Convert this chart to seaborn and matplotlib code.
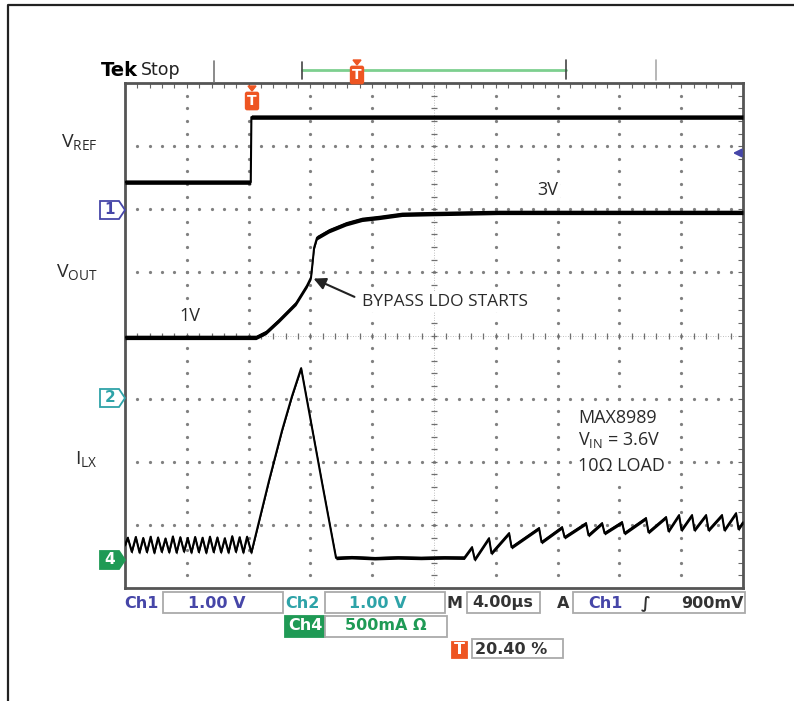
import numpy as np
import matplotlib
matplotlib.use("Agg")
import matplotlib.pyplot as plt
import seaborn as sns
from matplotlib.patches import Rectangle, Polygon
from matplotlib.lines import Line2D

# ----------------------------
# 1. Scope settings + traces
# ----------------------------
trig_pos = 8.16          # us, trigger at 20.40 % of the 40 us record

ch1_gnd, ch1_scale = 6.0, 1.0      # divisions from bottom, V/div  (VREF)
ch2_gnd, ch2_scale = 3.0, 1.0      # (VOUT)
ch4_gnd, ch4_scale = 0.44, 500.0   # mA/div (ILX)

# VREF (Ch1), time in us relative to trigger
vref_t = [-8.16, -0.02, 0.02, 31.84]
vref_v = [0.43, 0.43, 1.46, 1.46]

# VOUT (Ch2)
vout_t = [-8.16, 0.32, 0.97, 1.81, 2.91, 3.62, 3.88, 3.95, 4.08, 4.27,
          5.05, 6.15, 7.18, 8.28, 9.77, 11.52, 16.0, 24.0, 31.84]
vout_v = [0.97, 0.97, 1.05, 1.24, 1.51, 1.79, 1.92, 2.08, 2.39, 2.55,
          2.66, 2.77, 2.84, 2.87, 2.92, 2.93, 2.95, 2.95, 2.95]

# ILX (Ch4), mA
ilx_t = [-8.16, -7.98, -7.72, -7.46, -7.22, -6.98, -6.74, -6.50, -6.26, -6.02,
         -5.78, -5.54, -5.30, -5.06, -4.82, -4.58, -4.34, -4.10, -3.86, -3.62,
         -3.38, -3.14, -2.90, -2.66, -2.42, -2.18, -1.94, -1.70, -1.46, -1.22,
         -0.98, -0.74, -0.50, -0.26, 0.02,
         1.17, 2.01, 2.65, 3.24, 3.75, 4.60, 5.50,
         6.5, 8.0, 9.5, 11.0, 12.5, 13.8,
         14.30, 14.48, 15.40, 15.56, 16.70, 16.86, 18.64, 18.80, 20.13, 20.29,
         21.68, 21.84, 22.72, 22.88, 24.01, 24.17, 25.56, 25.72, 26.86, 27.02,
         27.70, 27.86, 28.54, 28.70, 29.45, 29.61, 30.48, 30.64, 31.39, 31.55,
         31.84]
ilx_ma = [120, 178, 66, 184, 60, 176, 64, 186, 58, 180,
          66, 172, 62, 188, 60, 182, 68, 176, 60, 184,
          64, 178, 58, 186, 64, 180, 62, 174, 60, 190,
          66, 182, 60, 186, 60,
          634, 1030, 1300, 1521, 1180, 610, 18,
          24, 16, 22, 18, 22, 20,
          103, 5, 174, 55, 214, 103, 254, 143, 261, 182,
          293, 198, 293, 214, 301, 214, 333, 222, 341, 230,
          357, 238, 357, 238, 357, 238, 357, 238, 372, 246,
          300]

# ----------------------------
# 2. Figure / graticule
# ----------------------------
W, H = 794, 701
sns.set_style("white")
plt.rcParams['font.family'] = ['Open Sans', 'DejaVu Sans']

fig = plt.figure(figsize=(W / 100, H / 100), dpi=100)
ax = fig.add_axes([125 / W, 1 - 588 / H, 618 / W, 505 / H])


def fx(x):
    return x / W


def fy(y):
    return 1 - y / H


grid_c = '#808080'
for gx in range(4, 40, 4):
    if gx == 20:
        continue
    ys = np.arange(0.2, 8, 0.2)
    ax.plot(np.full(len(ys), gx), ys, 'o', ms=1.3, color=grid_c, zorder=1)
for gy in range(1, 8):
    if gy == 4:
        continue
    xs = np.arange(0.8, 40, 0.8)
    ax.plot(xs, np.full(len(xs), gy), 'o', ms=1.3, color=grid_c, zorder=1)

# centre lines with tick marks
ax.axhline(4, color='#aaaaaa', lw=0.6, ls=(0, (1, 2)), zorder=1)
ax.axvline(20, color='#aaaaaa', lw=0.6, ls=(0, (1, 2)), zorder=1)
xs = np.arange(0.8, 40, 0.8)
ax.plot(xs, np.full(len(xs), 4), '|', ms=5, mew=0.9, color='#707070', zorder=1)
ys = np.arange(0.2, 8, 0.2)
ax.plot(np.full(len(ys), 20), ys, '_', ms=5, mew=0.9, color='#707070', zorder=1)

# ----------------------------
# 3. Traces
# ----------------------------
traces = [
    (vref_t, vref_v, ch1_gnd, ch1_scale, 0.035),
    (vout_t, vout_v, ch2_gnd, ch2_scale, 0.035),
    (ilx_t, ilx_ma, ch4_gnd, ch4_scale, 0.028),
]
for t, v, gnd, scale, half in traces:
    xs = np.array(t) + trig_pos
    ys = gnd + np.array(v) / scale
    ax.fill_between(xs, ys - half, ys + half, color='black', lw=0, zorder=3)
    sns.lineplot(x=xs, y=ys, ax=ax, color='black', lw=1.5,
                 estimator=None, sort=False, zorder=3)

ax.set_xlim(0, 40)
ax.set_ylim(0, 8)
ax.set_xticks(np.arange(0, 40.1, 4))
ax.set_xticks(np.arange(0, 40.1, 0.8), minor=True)
ax.set_yticks(np.arange(0, 8.1, 1))
ax.set_yticks(np.arange(0, 8.1, 0.2), minor=True)
ax.tick_params(which='both', direction='in', length=3.5, width=0.8, color='#666666',
               top=True, right=True, labelbottom=False, labelleft=False)
ax.set_xlabel('')
ax.set_ylabel('')
for s in ax.spines.values():
    s.set_color('#555555')
    s.set_linewidth(2)

# ----------------------------
# 4. Annotations
# ----------------------------
txt_c = '#2a2a2a'
wbox = dict(boxstyle='square,pad=0.1', fc='white', ec='none')
fig.text(fx(98), fy(143), r'V$_{\mathregular{REF}}$', ha='right', va='center', fontsize=14, color=txt_c)
fig.text(fx(98), fy(273), r'V$_{\mathregular{OUT}}$', ha='right', va='center', fontsize=14, color=txt_c)
fig.text(fx(98), fy(460), r'I$_{\mathregular{LX}}$', ha='right', va='center', fontsize=14, color=txt_c)

fig.text(fx(190), fy(316), '1V', ha='center', va='center', fontsize=13, color=txt_c, bbox=wbox)
fig.text(fx(548), fy(190), '3V', ha='center', va='center', fontsize=13, color=txt_c, bbox=wbox)
fig.text(fx(362), fy(302), 'BYPASS LDO STARTS', ha='left', va='center', fontsize=12.5,
         color=txt_c, bbox=wbox)
ax.annotate('', xy=(3.88 + trig_pos, ch2_gnd + 1.92 / ch2_scale),
            xytext=(fx(357), fy(298)), textcoords='figure fraction',
            arrowprops=dict(arrowstyle='-|>', color='#222222', lw=1.5, mutation_scale=18))

fig.text(fx(578), fy(418), 'MAX8989', ha='left', va='center', fontsize=13, color=txt_c, bbox=wbox)
fig.text(fx(578), fy(440), r'V$_{\mathregular{IN}}$ = 3.6V', ha='left', va='center', fontsize=13,
         color=txt_c, bbox=wbox)
fig.text(fx(578), fy(466), '10\u03a9 LOAD', ha='left', va='center', fontsize=13, color=txt_c, bbox=wbox)

# channel ground markers
c1, c2, c4 = '#4646a8', '#2ea3a8', '#1f9a55'
red = '#ee5522'


def gnd_marker(yc, color, label, filled):
    pts = [(100, yc - 9), (119, yc - 9), (125, yc), (119, yc + 9), (100, yc + 9)]
    fig.add_artist(Polygon([(fx(a), fy(b)) for a, b in pts], closed=True,
                           transform=fig.transFigure, fc=color if filled else 'white',
                           ec=color, lw=1.3))
    fig.text(fx(110), fy(yc), label, ha='center', va='center', fontsize=11, fontweight='bold',
             color='white' if filled else color, family='DejaVu Sans')


gnd_marker(210, c1, '1', False)
gnd_marker(398, c2, '2', False)
gnd_marker(560, c4, '4', True)

# trigger level arrow on the right
fig.add_artist(matplotlib.patches.FancyArrowPatch((fx(744), fy(153)), (fx(730), fy(153)),
               transform=fig.transFigure, arrowstyle='-|>', mutation_scale=12,
               color=c1, lw=1.5))


def trig_mark(xc, y_top):
    fig.add_artist(Polygon([(fx(xc - 4), fy(y_top)), (fx(xc + 4), fy(y_top)), (fx(xc), fy(y_top + 5))],
                           closed=True, transform=fig.transFigure, fc=red, ec=red))
    fig.text(fx(xc), fy(y_top + 15), 'T', ha='center', va='center', fontsize=10, fontweight='bold',
             color='white', family='DejaVu Sans',
             bbox=dict(boxstyle='round,pad=0.12', fc=red, ec=red))


trig_mark(252, 86)
trig_mark(357, 60)


def line(x0, y0, x1, y1, color, lw=1.2):
    fig.add_artist(Line2D([fx(x0), fx(x1)], [fy(y0), fy(y1)], transform=fig.transFigure,
                          color=color, lw=lw))


# top status bar
fig.text(fx(101), fy(71), 'Tek', ha='left', va='center', fontsize=14, fontweight='bold',
         color='black', family='DejaVu Sans')
fig.text(fx(141), fy(70), 'Stop', ha='left', va='center', fontsize=12.5, color='#222222',
         family='DejaVu Sans')
line(214, 61, 214, 82, '#777777')
line(656, 60, 656, 80, '#aaaaaa')
line(302, 70, 566, 70, '#7dcf8f', lw=2)
line(302, 62, 302, 79, '#444444')
line(566, 60, 566, 79, '#444444')

# border of the picture
fig.add_artist(Line2D([fx(8), fx(8), fx(794)], [fy(701), fy(5), fy(5)], transform=fig.transFigure,
                      color='#222222', lw=1.6))


# bottom readouts
def box(x0, y0, x1, y1, fc='white', ec='#aaaaaa'):
    fig.add_artist(Rectangle((fx(x0), fy(y1)), (x1 - x0) / W, (y1 - y0) / H,
                             transform=fig.transFigure, fc=fc, ec=ec, lw=1.3))


def ro(x, y, s, color, ha='left'):
    fig.text(fx(x), fy(y), s, ha=ha, va='center', fontsize=11.5, fontweight='bold',
             color=color, family='DejaVu Sans')


box(163, 592, 283, 613)
box(325, 592, 445, 613)
box(467, 592, 540, 613)
box(573, 592, 745, 613)
box(285, 616, 325, 637, fc=c4, ec=c4)
box(325, 616, 447, 637)
box(452, 642, 467, 658, fc=red, ec=red)
box(472, 639, 563, 658)

ro(124, 603, 'Ch1', c1)
ro(217, 603, '1.00 V', c1, ha='center')
ro(285, 603, 'Ch2', c2)
ro(378, 603, '1.00 V', c2, ha='center')
ro(447, 603, 'M', '#333333')
ro(503, 603, '4.00\u00b5s', '#333333', ha='center')
ro(557, 603, 'A', '#333333')
ro(588, 603, 'Ch1', c1)
ro(646, 603, '\u222b', '#333333', ha='center')
ro(743, 603, '900mV', '#333333', ha='right')
ro(305, 626, 'Ch4', 'white', ha='center')
ro(345, 626, '500mA \u03a9', c4)
ro(459.5, 650, 'T', 'white', ha='center')
ro(475, 649, '20.40 %', '#333333')

fig.savefig('out.png', dpi=100)
